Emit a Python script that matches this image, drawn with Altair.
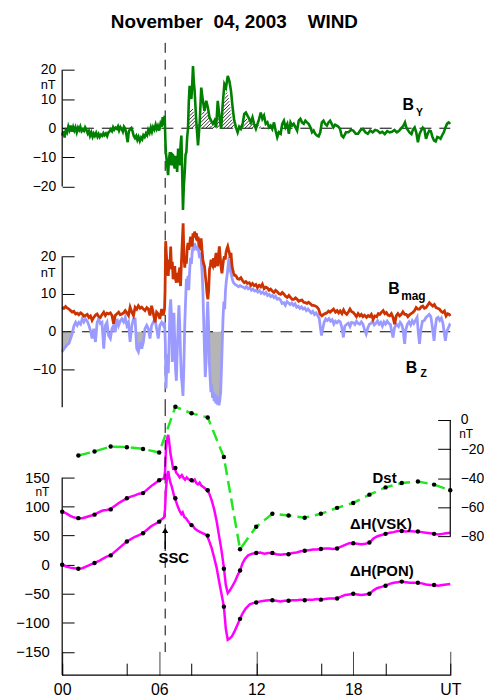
import altair as alt
import numpy as np
import pandas as pd

FONT = "Liberation Sans"

# ---------------- data (hours UT, nT) ----------------
by_pts = [
(0.00,-2.5),(0.08,-1.0),(0.15,-3.2),(0.22,-0.8),(0.30,-1.5),(0.38,0.6),(0.45,-0.6),(0.52,0.9),(0.60,-1.2),(0.68,0.4),
(0.75,-0.8),(0.82,0.3),(0.90,-1.4),(0.98,0.2),(1.05,-0.6),(1.12,0.5),(1.20,-1.0),(1.28,-0.4),(1.35,-0.9),(1.42,0.3),
(1.50,-0.6),(1.58,-1.8),(1.65,-1.0),(1.72,-2.6),(1.80,-1.4),(1.88,-2.9),(1.95,-1.8),(2.02,-2.6),(2.10,-1.6),(2.18,-2.9),
(2.25,-2.0),(2.32,-3.0),(2.40,-2.2),(2.48,-2.6),(2.55,-1.7),(2.62,-2.4),(2.70,-1.8),(2.78,-2.7),(2.85,-1.5),(2.92,-1.2),
(3.00,-0.4),(3.08,-1.0),(3.15,0.3),(3.22,-0.5),(3.30,0.2),(3.38,-0.2),(3.45,0.6),(3.52,-0.8),(3.60,0.4),(3.68,-0.3),
(3.75,-1.2),(3.82,0.5),(3.90,-0.2),(3.98,-2.5),(4.05,-4.8),(4.12,-1.2),(4.20,-0.3),(4.28,0.1),(4.35,-1.0),(4.42,-2.6),
(4.50,-3.4),(4.58,-2.6),(4.65,-4.0),(4.72,-3.0),(4.80,-4.4),(4.88,-3.2),(4.95,-3.8),(5.02,-2.4),(5.10,-3.0),(5.18,-1.8),
(5.25,-2.4),(5.32,-0.6),(5.40,-1.6),(5.48,0.2),(5.55,-1.2),(5.62,0.4),(5.70,-0.5),(5.78,1.2),(5.85,-0.2),(5.92,0.8),
(6.00,-0.8),(6.08,1.5),(6.15,0.5),(6.22,3.8),(6.28,1.0),(6.34,4.3),
(6.38,-4.0),(6.41,-8.2),(6.48,-12.0),(6.55,-16.1),(6.60,-11.0),(6.66,-8.2),(6.71,-11.5),(6.76,-12.7),(6.81,-9.0),(6.86,-9.3),
(6.91,-12.5),(6.96,-13.8),(7.01,-9.5),(7.06,-10.4),(7.11,-15.0),(7.17,-7.0),(7.22,-11.0),(7.27,-12.7),(7.32,-6.0),(7.37,-2.5),
(7.42,-15.0),(7.47,-28.0),(7.52,-20.0),(7.58,-14.9),(7.63,-9.0),(7.68,-8.2),(7.73,-3.0),(7.78,-0.2),(7.83,9.0),(7.88,14.5),
(7.94,12.0),(7.99,10.0),(8.04,15.0),(8.09,21.3),(8.14,16.0),(8.19,12.8),(8.29,2.6),(8.40,-5.9),(8.50,1.5),(8.60,13.9),
(8.70,9.4),(8.80,6.0),(8.91,9.4),(9.01,7.1),(9.11,3.7),(9.21,2.6),(9.32,1.5),(9.42,2.6),(9.52,0.3),(9.62,9.4),
(9.73,3.7),(9.83,-0.2),(9.93,8.3),(10.03,15.1),(10.13,13.9),(10.24,17.9),(10.34,16.2),(10.44,12.8),(10.54,7.1),(10.64,2.6),
(10.75,0.3),(10.85,-1.4),(10.95,0.5),(11.05,-0.2),(11.16,1.5),(11.26,4.9),(11.36,5.4),(11.46,4.3),(11.57,3.2),(11.67,2.0),
(11.77,3.7),(11.87,1.5),(11.98,-0.2),(12.08,1.5),(12.18,3.2),(12.28,5.4),(12.38,3.2),(12.48,4.3),(12.59,1.5),(12.69,2.0),
(12.79,0.3),(12.89,0.9),(12.99,-0.2),(13.10,2.0),(13.20,-0.8),(13.30,-3.1),(13.40,-1.4),(13.51,-1.9),(13.61,1.5),(13.71,2.6),
(13.81,0.3),(13.92,1.5),(14.02,-1.9),(14.12,2.0),(14.22,0.9),(14.32,1.5),(14.43,0.3),(14.53,-0.8),(14.63,2.6),(14.73,3.2),
(14.83,2.0),(14.94,1.5),(15.04,2.6),(15.14,2.0),(15.24,1.5),(15.35,0.3),(15.45,-1.4),(15.55,-0.8),(15.65,-1.9),(15.75,-2.5),
(15.86,-2.8),(15.96,-1.4),(16.06,2.0),(16.16,2.6),(16.26,1.5),(16.37,0.9),(16.47,2.0),(16.57,2.6),(16.67,1.5),(16.77,0.3),
(16.88,1.2),(16.98,0.9),(17.08,0.5),(17.18,-0.2),(17.28,-2.5),(17.39,-3.1),
(17.55,-1.4),(17.70,-1.4),(17.85,-0.6),(18.00,-0.8),(18.15,-1.9),(18.30,-1.9),(18.45,-0.6),(18.60,-0.2),(18.75,-1.4),(18.90,-1.9),
(19.05,-0.8),(19.20,-1.4),(19.35,-0.6),(19.50,-0.8),(19.65,-1.6),(19.80,-1.2),(19.95,-2.0),(20.10,-1.0),(20.25,-1.4),(20.40,-1.2),
(20.55,-0.6),(20.70,-1.4),(20.85,-0.8),(21.00,0.2),(21.10,0.8),(21.20,2.0),(21.30,0.0),(21.40,-0.8),(21.50,-1.6),(21.60,-2.0),
(21.70,-0.4),(21.80,0.3),(21.90,-1.5),(22.00,-4.8),(22.10,-2.0),(22.20,-0.8),(22.30,0.2),(22.40,-0.4),(22.50,-3.6),(22.60,-2.0),
(22.70,-0.8),(22.80,-1.0),(22.90,-3.0),(23.00,-4.2),(23.10,-4.5),(23.20,-3.0),(23.30,-3.2),(23.40,-3.6),(23.50,-2.4),(23.60,-1.4),
(23.70,0.2),(23.80,1.5),(23.90,2.0),(24.00,1.5),
]

# upper outline of the hatched (positive By) region
by_hatch_pts = [
(7.80,0.0),(7.88,6.6),(8.10,6.6),(8.25,3.0),(8.35,1.0),(8.50,2.5),(8.70,6.0),(9.00,5.5),(9.15,2.5),(9.30,0.2),
(9.50,4.3),(9.70,3.5),(9.80,1.0),(9.93,6.0),(10.10,12.0),(10.25,12.3),(10.40,7.0),(10.50,3.0),(10.65,0.5),(10.75,0.0),
(11.00,0.3),(11.15,3.2),(11.50,3.2),(11.75,2.0),(12.00,1.5),(12.30,0.5),(12.60,0.0),
]

bmag_pts = [
(0.00,6.5),(0.10,6.2),(0.21,6.7),(0.30,6.3),(0.42,6.0),(0.52,5.6),(0.62,5.2),(0.72,5.4),(0.83,4.7),(0.93,4.9),
(1.03,4.5),(1.14,5.0),(1.24,4.7),(1.34,4.1),(1.44,4.3),(1.55,4.6),(1.65,3.8),(1.75,4.2),(1.85,3.0),(1.95,3.8),
(2.06,4.4),(2.16,4.7),(2.26,4.0),(2.36,3.8),(2.47,4.6),(2.57,5.2),(2.67,4.3),(2.77,4.9),(2.87,4.7),(2.98,5.0),
(3.08,4.3),(3.18,2.1),(3.28,4.3),(3.39,4.8),(3.49,5.2),(3.59,4.5),(3.69,4.7),(3.80,5.0),(3.90,5.6),(4.00,5.0),
(4.10,4.3),(4.20,6.5),(4.31,5.2),(4.41,4.3),(4.51,6.5),(4.61,6.0),(4.71,6.9),(4.82,6.2),(4.92,6.5),(5.02,6.0),
(5.12,5.6),(5.23,6.4),(5.33,6.0),(5.43,4.3),(5.53,6.9),(5.63,5.0),(5.74,2.5),(5.84,5.2),(5.94,4.7),(6.04,3.4),
(6.15,6.0),(6.25,4.3),(6.33,6.0),(6.36,10.4),
(6.40,24.0),(6.45,20.0),(6.50,16.5),(6.56,14.8),(6.61,19.1),(6.66,17.0),(6.71,22.6),(6.76,16.5),(6.81,18.5),(6.86,13.9),
(6.91,15.5),(6.96,17.4),(7.01,14.0),(7.06,13.0),(7.11,15.6),(7.17,13.0),(7.22,15.6),(7.27,17.0),(7.32,12.1),(7.37,18.0),
(7.43,24.0),(7.48,28.7),(7.53,20.0),(7.58,17.0),(7.63,20.0),(7.68,18.0),(7.73,22.0),(7.78,23.5),(7.83,21.7),(7.88,23.0),
(7.94,25.2),(7.99,24.0),(8.04,22.6),(8.09,26.1),(8.14,25.0),(8.19,26.5),(8.25,25.5),(8.30,26.1),(8.35,24.0),(8.40,25.2),
(8.45,23.0),(8.50,22.6),(8.55,24.4),(8.60,24.4),(8.65,21.5),(8.70,19.1),(8.75,18.0),(8.80,17.4),(8.85,15.0),(8.90,13.0),
(8.96,10.0),(9.01,8.6),(9.06,11.0),(9.11,16.5),(9.16,17.5),(9.21,19.1),(9.26,18.0),(9.31,17.5),(9.36,19.5),(9.42,17.0),
(9.47,19.5),(9.52,20.9),(9.57,18.0),(9.62,17.4),(9.67,20.5),(9.72,22.6),(9.77,20.0),(9.83,17.0),(9.88,15.5),(9.93,17.4),
(9.98,19.1),(10.03,20.0),(10.08,19.1),(10.13,20.9),(10.19,22.0),(10.24,22.6),(10.29,21.7),(10.34,20.9),(10.39,19.5),(10.44,20.9),
(10.49,18.0),(10.54,16.5),(10.60,15.6),(10.65,15.0),(10.75,14.8),(10.85,14.0),(10.95,13.9),(11.05,14.3),(11.16,13.5),(11.26,13.0),
(11.36,13.3),(11.46,12.8),(11.57,13.0),(11.67,12.3),(11.77,12.8),(11.87,12.2),(11.98,12.5),(12.08,11.7),(12.18,12.3),(12.28,11.9),
(12.38,12.6),(12.49,11.4),(12.59,11.8),(12.69,11.6),(12.79,11.0),(12.89,11.3),(12.99,10.8),(13.10,10.4),(13.20,11.0),(13.30,10.6),
(13.40,10.1),(13.51,9.9),(13.61,10.4),(13.71,10.0),(13.81,9.4),(13.92,9.1),(14.02,9.6),(14.12,9.1),(14.22,8.6),(14.32,8.6),
(14.43,9.0),(14.53,8.6),(14.63,8.1),(14.73,8.3),(14.83,8.4),(14.94,7.8),(15.04,7.7),(15.14,7.5),(15.24,7.8),(15.35,7.4),
(15.45,7.0),(15.55,7.0),(15.65,6.8),(15.75,6.6),(15.86,6.0),(15.95,4.7),(16.06,4.2),(16.16,4.6),(16.26,4.8),(16.37,5.0),
(16.47,5.5),(16.57,5.2),(16.67,5.6),(16.78,6.0),(16.90,5.2),(17.00,5.6),(17.10,5.0),(17.19,5.5),(17.30,4.8),(17.40,5.8),
(17.50,5.0),(17.60,4.6),(17.70,5.2),(17.80,6.0),(17.90,5.3),(18.00,5.1),(18.10,4.6),(18.20,4.0),(18.30,4.8),(18.41,4.2),
(18.50,4.6),(18.60,4.0),(18.70,4.4),(18.82,3.8),(18.92,4.3),(19.02,4.0),(19.12,4.6),(19.23,3.3),(19.33,4.2),(19.45,4.0),
(19.55,4.8),(19.64,4.6),(19.75,5.2),(19.85,5.6),(19.95,4.8),(20.05,5.1),(20.15,4.4),(20.25,4.2),(20.36,4.8),(20.46,3.8),
(20.56,2.0),(20.66,4.2),(20.76,4.8),(20.87,4.2),(20.97,4.6),(21.07,5.3),(21.18,4.6),(21.28,4.6),(21.38,4.0),(21.48,4.5),
(21.58,4.8),(21.69,5.1),(21.79,5.6),(21.89,6.4),(21.99,6.0),(22.10,6.0),(22.20,6.6),(22.30,6.8),(22.40,6.2),(22.50,6.4),
(22.60,7.0),(22.71,7.7),(22.80,7.3),(22.92,6.8),(23.02,7.2),(23.12,6.4),(23.22,6.2),(23.33,6.0),(23.43,5.4),(23.53,5.1),
(23.64,5.5),(23.74,4.2),(23.84,4.8),(23.94,4.6),(24.00,4.2),
]

bz_pts = [
(0.00,-5.3),(0.11,-4.5),(0.21,-4.0),(0.31,-3.4),(0.42,-3.1),(0.52,-1.8),(0.62,-0.5),(0.72,1.5),(0.83,2.5),(0.93,1.7),
(1.03,2.5),(1.14,2.0),(1.24,3.4),(1.34,2.6),(1.44,3.4),(1.55,2.8),(1.65,1.7),(1.75,0.3),(1.85,-1.8),(1.95,0.8),
(2.06,-2.7),(2.16,2.5),(2.26,3.4),(2.36,2.2),(2.46,2.5),(2.57,-4.5),(2.67,1.7),(2.77,2.5),(2.87,-1.0),(2.98,-1.8),
(3.08,0.8),(3.18,1.7),(3.28,-0.1),(3.39,3.4),(3.49,1.7),(3.59,2.8),(3.69,3.4),(3.80,2.6),(3.90,3.8),(4.00,1.7),
(4.10,2.5),(4.20,-2.7),(4.31,1.7),(4.41,3.4),(4.51,3.4),(4.61,-4.5),(4.71,-5.3),(4.82,-2.7),(4.92,-4.5),(5.02,-2.7),
(5.12,0.8),(5.23,1.7),(5.33,0.8),(5.43,-1.8),(5.53,1.7),(5.63,2.5),(5.74,3.4),(5.84,0.8),(5.94,-1.8),(6.04,1.7),
(6.15,2.5),(6.25,1.7),(6.33,2.5),
(6.38,-3.0),(6.42,-15.0),(6.47,-8.8),(6.52,-6.0),(6.56,-11.0),(6.61,-3.0),(6.66,6.0),(6.71,8.6),(6.76,4.0),(6.81,-8.0),
(6.86,-4.0),(6.91,5.0),(6.96,-2.0),(7.01,-10.0),(7.06,-13.0),(7.11,-6.0),(7.17,2.0),(7.22,7.0),(7.27,2.0),(7.32,-6.0),
(7.37,-12.0),(7.42,-14.0),(7.47,-17.0),(7.52,-10.0),(7.58,2.0),(7.63,8.0),(7.68,14.0),(7.73,12.0),(7.78,14.8),(7.83,11.0),
(7.88,16.0),(7.94,19.6),(7.99,18.0),(8.04,21.0),(8.09,22.6),(8.14,21.5),(8.19,23.5),(8.25,22.0),(8.30,22.8),(8.35,21.5),
(8.40,22.6),(8.45,21.0),(8.50,19.5),(8.55,21.0),(8.60,19.1),(8.65,16.0),(8.70,11.0),(8.75,3.0),(8.80,-5.0),(8.85,-12.0),
(8.90,-8.0),(8.95,3.0),(9.00,8.0),(9.05,2.0),(9.10,-8.0),(9.15,-12.3),(9.20,-16.0),(9.25,-14.0),(9.30,-17.5),(9.35,-16.0),
(9.40,-18.4),(9.45,-16.5),(9.50,-19.0),(9.55,-17.0),(9.60,-19.3),(9.65,-17.5),(9.70,-19.5),(9.75,-18.0),(9.80,-16.0),(9.85,-10.0),
(9.90,-3.0),(9.95,4.0),(10.00,8.0),(10.05,6.0),(10.10,11.0),(10.15,13.4),(10.20,15.0),(10.25,17.0),(10.30,19.0),(10.35,18.7),
(10.40,16.0),(10.45,15.5),(10.50,14.3),(10.55,13.5),(10.60,13.0),(10.70,12.5),(10.80,12.3),(10.90,11.9),(11.00,12.2),(11.10,12.0),
(11.20,11.8),(11.30,11.5),(11.40,12.0),(11.50,11.4),(11.60,11.7),(11.70,11.0),(11.80,11.3),(11.90,10.8),(12.00,11.0),(12.10,10.5),
(12.20,10.9),(12.30,10.2),(12.40,10.5),(12.50,10.0),(12.60,10.4),(12.70,9.6),(12.80,9.9),(12.90,9.3),(13.00,9.6),(13.10,9.0),
(13.20,9.4),(13.30,8.6),(13.40,8.8),(13.50,8.4),(13.60,7.5),(13.70,7.7),(13.80,7.0),(13.90,8.0),(14.00,7.6),(14.10,7.2),
(14.20,7.6),(14.30,7.0),(14.40,7.4),(14.50,6.5),(14.60,6.8),(14.70,6.2),(14.80,6.6),(14.90,6.0),(15.00,6.3),(15.10,5.6),
(15.20,6.0),(15.30,5.5),(15.40,5.0),(15.50,5.4),(15.60,4.6),(15.70,5.0),(15.80,4.3),(15.90,3.5),(15.97,1.0),(16.04,-1.0),
(16.10,0.5),(16.20,2.5),(16.30,3.4),(16.40,3.0),(16.50,3.5),(16.60,2.8),(16.70,3.2),(16.80,2.0),(16.90,2.8),(17.00,2.4),
(17.10,2.9),(17.20,2.6),(17.30,1.0),(17.39,-1.5),(17.48,1.5),(17.60,2.0),(17.70,2.3),(17.80,1.4),(17.90,2.5),(18.00,2.4),
(18.10,1.9),(18.20,2.8),(18.30,2.2),(18.40,2.0),(18.50,2.6),(18.60,2.0),(18.70,0.5),(18.80,-0.6),(18.90,1.0),(19.00,2.0),
(19.10,2.2),(19.20,2.8),(19.30,1.8),(19.40,2.2),(19.50,2.9),(19.60,2.0),(19.70,2.5),(19.80,1.5),(19.90,2.6),(20.00,2.0),
(20.10,2.8),(20.20,2.2),(20.30,1.9),(20.38,0.0),(20.46,-1.5),(20.55,1.0),(20.66,2.0),(20.80,1.4),(20.90,2.5),(21.00,1.9),
(21.08,0.5),(21.18,-3.2),(21.25,0.5),(21.35,2.0),(21.45,2.6),(21.55,1.8),(21.65,2.9),(21.75,2.2),(21.85,3.0),(21.95,3.8),
(22.02,0.0),(22.10,-3.2),(22.18,0.5),(22.28,2.8),(22.40,3.0),(22.50,3.8),(22.60,4.2),(22.70,4.6),(22.80,4.0),(22.90,1.0),
(23.00,-2.4),(23.07,1.0),(23.15,3.5),(23.25,3.8),(23.35,3.0),(23.45,3.6),(23.55,2.2),(23.62,0.0),(23.70,-2.4),(23.78,0.0),
(23.88,1.0),(23.96,1.8),(24.00,1.6),
]
bz_fill_windows = [(0.0, 6.37), (9.05, 9.95)]

vsk_pts = [
(0.00,91),(0.25,88),(0.50,84),(0.75,81),(1.00,80),(1.25,80),(1.50,82),(1.75,84),(2.00,86),(2.25,90),(2.50,93),(2.75,94),
(3.00,96),(3.25,101),(3.50,106),(3.75,110),(4.00,114),(4.25,117),(4.50,119),(4.75,122),(5.00,123),(5.25,129),(5.50,135),
(5.75,140),(6.00,145),(6.15,147),(6.30,148),(6.36,160),(6.42,200),(6.50,218),(6.56,223),(6.62,210),(6.70,190),(6.77,180),
(6.86,165),(6.96,166),(7.05,158),(7.15,155),(7.27,150),(7.40,154),(7.50,149),(7.60,146),(7.70,150),(7.80,147),(7.98,145),
(8.10,143),(8.20,146),(8.30,140),(8.40,138),(8.50,141),(8.60,136),(8.75,133),(8.96,128),(9.10,122),(9.25,110),(9.40,95),
(9.55,75),(9.70,50),(9.85,25),(10.00,-5),(10.12,-35),(10.24,-49),(10.35,-45),(10.50,-38),(10.70,-28),(10.85,-18),(11.00,-10),
(11.15,2),(11.30,10),(11.50,16),(11.75,19),(12.00,20),(12.25,21),(12.50,19),(12.75,20),(13.00,20),(13.25,18),(13.50,17),
(13.75,18),(14.00,18),(14.25,20),(14.50,21),(14.75,23),(15.00,24),(15.25,25),(15.50,26),(15.75,26),(16.00,27),(16.25,28),
(16.50,28),(16.75,27),(17.00,28),(17.25,31),(17.50,34),(17.75,37),(18.00,37),(18.25,36),(18.50,35),(18.75,36),(19.00,38),
(19.25,45),(19.50,49),(19.75,51),(20.00,53),(20.25,55),(20.50,56),(20.75,58),(21.00,58),(21.25,57),(21.50,58),(21.75,57),
(22.00,57),(22.25,56),(22.50,55),(22.75,54),(23.00,53),(23.25,52),(23.50,53),(23.75,54),(24.00,55),
]
pon_pts = [
(0.00,0),(0.25,-3),(0.50,-5),(0.75,-6),(1.00,-7),(1.25,-6),(1.50,-3),(1.75,0),(2.00,3),(2.25,6),(2.50,10),(2.75,14),
(3.00,16),(3.25,22),(3.50,28),(3.75,34),(4.00,40),(4.25,44),(4.50,48),(4.75,51),(5.00,54),(5.25,60),(5.50,66),(5.75,70),
(6.00,74),(6.15,78),(6.30,81),(6.36,95),(6.42,130),(6.50,155),(6.56,161),(6.62,150),(6.70,140),(6.77,135),(6.86,125),
(6.96,114),(7.05,108),(7.15,100),(7.27,92),(7.37,87),(7.45,90),(7.55,82),(7.65,80),(7.75,76),(7.85,72),(7.98,68),(8.10,66),
(8.20,62),(8.30,60),(8.40,58),(8.55,56),(8.70,54),(8.85,52),(8.96,50),(9.10,40),(9.25,28),(9.40,12),(9.55,-5),(9.70,-28),
(9.85,-50),(10.00,-72),(10.12,-110),(10.24,-129),(10.35,-127),(10.50,-123),(10.65,-115),(10.84,-103),(11.00,-93),(11.15,-84),
(11.36,-75),(11.60,-68),(11.80,-66),(12.00,-65),(12.25,-63),(12.50,-62),(12.75,-61),(13.00,-61),(13.25,-62),(13.50,-63),
(13.75,-62),(14.00,-62),(14.25,-61),(14.50,-61),(14.75,-60),(15.00,-61),(15.25,-60),(15.50,-60),(15.75,-59),(16.00,-60),
(16.25,-59),(16.50,-58),(16.75,-58),(17.00,-58),(17.25,-55),(17.50,-52),(17.75,-51),(18.00,-50),(18.25,-51),(18.50,-52),
(18.75,-51),(19.00,-50),(19.25,-44),(19.50,-40),(19.75,-38),(20.00,-36),(20.25,-33),(20.50,-31),(20.75,-30),(21.00,-29),
(21.25,-30),(21.50,-31),(21.75,-31),(22.00,-31),(22.25,-32),(22.50,-34),(22.75,-35),(23.00,-35),(23.25,-36),(23.50,-35),
(23.75,-34),(24.00,-33),
]
hourly_h = list(range(24))
vsk_hourly = [91, 80, 86, 95, 114, 123, 145, 166, 145, 128, -7, -10, 20, 20, 18, 24, 27, 28, 37, 38, 53, 58, 57, 53]
pon_hourly = [0, -7, 3, 16, 40, 54, 74, 114, 68, 50, -72, -93, -65, -61, -62, -61, -60, -58, -50, -50, -36, -29, -31, -35]
dst_h = list(range(1, 25))
dst_v = [-24.4, -21.7, -18.3, -18.7, -19.9, -22.4, 9.1, 4.6, 1.8, -25.5, -89.0, -73.5,
         -64.6, -65.8, -67.3, -64.6, -60.5, -57.1, -51.4, -46.4, -43.4, -42.3, -44.5, -48.4]

SSC_H = 6.37
x_ticks_major = [0, 6, 12, 18, 24]
x_ticks_minor = list(range(25))
by_ticks = [-20, -10, 0, 10, 20]
h_ticks = [-150, -100, -50, 0, 50, 100, 150]
dst_ticks = [0, -20, -40, -60, -80]

# ---------------- layout ----------------
W = 391
H1, H2, H3 = 172, 194, 271
Y1 = [-29.25, 29.25]
Y2 = [-19.7, 31.3]
Y3L = [-189.6, 272.4]
Y3R = [-175.7, 9.57]

xsc = alt.Scale(domain=[0, 24], nice=False, zero=False)
one = pd.DataFrame({"k": [0]})


def df(pts):
    return pd.DataFrame(pts, columns=["h", "v"])


def xd(v, hide=True):
    if hide:
        return alt.XDatum(v, scale=xsc, axis=None)
    return alt.XDatum(v, scale=xsc)


def yd(v):
    return alt.YDatum(v)


def label(text, h, v, size, bold=True, align="center", dx=0, dy=0, hide_x=True):
    return alt.Chart(one).mark_text(
        text=text, font=FONT, fontSize=size, fontWeight="bold" if bold else "normal",
        align=align, baseline="middle", dx=dx, dy=dy, color="black"
    ).encode(x=xd(h, hide_x), y=yd(v))


def yaxis(values, pad, fs, orient="left", tick=12):
    return alt.Axis(values=values, orient=orient, domain=False, grid=False, ticks=True,
                    tickSize=tick, offset=-tick, labelPadding=pad, labelFontSize=fs,
                    labelFont=FONT, labelColor="black", tickColor="black", tickWidth=1,
                    title=None, labelFlush=False, labelOverlap=False,
                    labelAlign="left" if orient == "right" else "right")


def zero_line():
    return alt.Chart(one).mark_rule(color="black", strokeWidth=1, strokeDash=[12, 8]).encode(
        x=xd(0), x2=alt.X2Datum(24), y=yd(0))


def ssc_line():
    return alt.Chart(one).mark_rule(color="black", strokeWidth=1, strokeDash=[10, 7]).encode(x=xd(SSC_H))


def axis_rule(h, lo, hi, hide_x=True):
    return alt.Chart(one).mark_rule(color="black", strokeWidth=1.2).encode(
        x=xd(h, hide_x), y=yd(lo), y2=alt.Y2Datum(hi))


# hatch segments (45 degree lines) under the positive By envelope
hx = np.array([p[0] for p in by_hatch_pts])
hv = np.array([p[1] for p in by_hatch_pts])
K = (W / 24.0) / (H1 / (Y1[1] - Y1[0]))  # nT per hour for a 45 degree line
segs = []
for c in np.arange(hx[0] - hv.max() / K, hx[-1], 0.22):
    xs = np.arange(c, hx[-1] + 0.002, 0.002)
    top = np.interp(xs, hx, hv, left=0, right=0)
    ys = K * (xs - c)
    inside = (ys <= top) & (top > 0.05)
    i, n = 0, len(xs)
    while i < n:
        if inside[i]:
            j = i
            while j + 1 < n and inside[j + 1]:
                j += 1
            if xs[j] - xs[i] > 0.01:
                segs.append({"x0": xs[i], "y0": ys[i], "x1": xs[j], "y1": ys[j]})
            i = j + 1
        else:
            i += 1
hatch_df = pd.DataFrame(segs)

# ---------------- panel 1 : By ----------------
by_line = alt.Chart(df(by_pts)).mark_line(color="#008000", strokeWidth=2.6).encode(
    x=alt.X("h:Q", scale=xsc, axis=None),
    y=alt.Y("v:Q", scale=alt.Scale(domain=Y1, nice=False, zero=False), axis=yaxis(by_ticks, 6.5, 14)))
hatch = alt.Chart(hatch_df).mark_rule(color="black", strokeWidth=0.8).encode(
    x=alt.X("x0:Q", scale=xsc, axis=None), x2="x1:Q",
    y=alt.Y("y0:Q"), y2="y1:Q")
p1 = alt.layer(
    hatch, zero_line(), ssc_line(), by_line, axis_rule(0, -20, 20),
    label("nT", 0, 14.8, 13, bold=False, align="right", dx=-6.5),
    label("B", 21.4, 7.8, 16), label("Y", 22.1, 5.2, 10.5),
).properties(width=W, height=H1)

# ---------------- panel 2 : Bmag, Bz ----------------
bz_df = df(bz_pts)
mask = np.zeros(len(bz_df), dtype=bool)
for a, b in bz_fill_windows:
    mask |= (bz_df["h"] >= a) & (bz_df["h"] <= b)
fill_df = bz_df[mask].copy()
fill_df["v"] = fill_df["v"].clip(upper=0)

bz_fill = alt.Chart(fill_df).mark_area(color="#b5b5b5", opacity=1).encode(
    x=alt.X("h:Q", scale=xsc, axis=None), y=alt.Y("v:Q"), y2=alt.Y2Datum(0))
bz_line = alt.Chart(bz_df).mark_line(color="#9b9bff", strokeWidth=2.8).encode(
    x=alt.X("h:Q", scale=xsc, axis=None),
    y=alt.Y("v:Q", scale=alt.Scale(domain=Y2, nice=False, zero=False), axis=yaxis(by_ticks, 6.5, 14)))
bmag_line = alt.Chart(df(bmag_pts)).mark_line(color="#cc3300", strokeWidth=2.8).encode(
    x=alt.X("h:Q", scale=xsc, axis=None), y=alt.Y("v:Q"))
p2 = alt.layer(
    bz_fill, zero_line(), ssc_line(), bz_line, bmag_line, axis_rule(0, -20, 20),
    label("nT", 0, 15.5, 13, bold=False, align="right", dx=-6.5),
    label("B", 20.52, 11.3, 16), label("mag", 21.72, 9.5, 12),
    label("B", 21.6, -9.7, 16), label("Z", 22.36, -11.3, 10.5),
).properties(width=W, height=H2)

# ---------------- panel 3 : H(VSK), H(PON), Dst ----------------
x_major = alt.Axis(values=x_ticks_major, orient="bottom", domain=False, grid=False, tickSize=24, offset=-24,
                   labelPadding=7, labelFontSize=16, labelFont=FONT, labelColor="black", tickColor="#444",
                   tickWidth=1, labelFlush=False, labelOverlap=False, title=None,
                   labelExpr="datum.value == 24 ? 'UT' : (datum.value < 10 ? '0' + datum.value : '' + datum.value)")
x_minor = alt.Axis(values=x_ticks_minor, orient="bottom", domain=False, grid=False, tickSize=12, offset=-12,
                   labels=False, tickColor="black", tickWidth=1, title=None)

XH = alt.X("h:Q", scale=xsc)
vsk_line = alt.Chart(df(vsk_pts)).mark_line(color="#ff00ff", strokeWidth=2.5).encode(
    x=alt.X("h:Q", scale=xsc, axis=x_major),
    y=alt.Y("v:Q", scale=alt.Scale(domain=Y3L, nice=False, zero=False), axis=yaxis(h_ticks, 13, 15)))
pon_line = alt.Chart(df(pon_pts)).mark_line(color="#ff00ff", strokeWidth=2.5).encode(x=XH, y=alt.Y("v:Q"))
vsk_dots = alt.Chart(pd.DataFrame({"h": hourly_h, "v": vsk_hourly})).mark_circle(
    size=20, color="black", opacity=1).encode(x=XH, y=alt.Y("v:Q"))
pon_dots = alt.Chart(pd.DataFrame({"h": hourly_h, "v": pon_hourly})).mark_circle(
    size=20, color="black", opacity=1).encode(x=XH, y=alt.Y("v:Q"))
ssc3 = alt.Chart(one).mark_rule(color="black", strokeWidth=1, strokeDash=[10, 7]).encode(
    x=xd(SSC_H, False), y=yd(Y3L[1]), y2=alt.Y2Datum(-150))
arrow_shaft = alt.Chart(one).mark_rule(color="black", strokeWidth=1.5).encode(
    x=xd(SSC_H, False), y=yd(27), y2=alt.Y2Datum(57))
arrow_head = alt.Chart(one).mark_point(shape="triangle-up", filled=True, size=40, color="black", opacity=1).encode(
    x=xd(SSC_H, False), y=yd(59))
bottom_rule = alt.Chart(one).mark_rule(color="black", strokeWidth=1.2).encode(
    x=xd(0, False), x2=alt.X2Datum(24), y=yd(Y3L[0]))

left = alt.layer(
    vsk_line, ssc3, pon_line, vsk_dots, pon_dots, axis_rule(0, Y3L[0], 150, False), bottom_rule,
    arrow_shaft, arrow_head,
    label("SSC", 6.9, 11.4, 15, hide_x=False),
    label("\u0394H(VSK)", 17.8, 69.4, 15, align="left", hide_x=False),
    label("\u0394H(PON)", 17.8, -10.7, 15, align="left", hide_x=False),
    label("nT", 0, 124, 12, bold=False, align="right", dx=-13, hide_x=False),
)

dst_df = pd.DataFrame({"h": dst_h, "v": dst_v})
dst_line = alt.Chart(dst_df).mark_line(
    color="#22e622", strokeWidth=2.5, strokeDash=[12, 6]).encode(
    x=alt.X("h:Q", scale=xsc, axis=x_minor),
    y=alt.Y("v:Q", scale=alt.Scale(domain=Y3R, nice=False, zero=False),
            axis=yaxis(dst_ticks, 10, 14, orient="right", tick=12.7)))
dst_dots = alt.Chart(dst_df).mark_circle(size=20, color="black", opacity=1).encode(x=XH, y=alt.Y("v:Q"))
right = alt.layer(
    dst_line, dst_dots, axis_rule(24, -80, 0, False),
    label("Dst", 19.94, -40.3, 15, hide_x=False),
    label("nT", 24, -9.6, 12, bold=False, align="left", dx=9, hide_x=False),
)

p3 = alt.layer(left, right).resolve_scale(y="independent").resolve_axis(x="independent").properties(
    width=W, height=H3)

chart = alt.vconcat(p1, p2, p3, spacing=0, bounds="flush").properties(
    title=alt.TitleParams(
        text="November\u00a0\u00a004, 2003\u00a0\u00a0\u00a0\u00a0WIND",
        font=FONT, fontSize=19, fontWeight="bold", color="black", anchor="middle", offset=10, dx=-15.5),
    padding={"left": 7.6, "top": 2.5, "right": 0, "bottom": 5},
).configure_view(stroke=None)

chart.save("out.html", embed_options={"renderer": "svg", "actions": False})
